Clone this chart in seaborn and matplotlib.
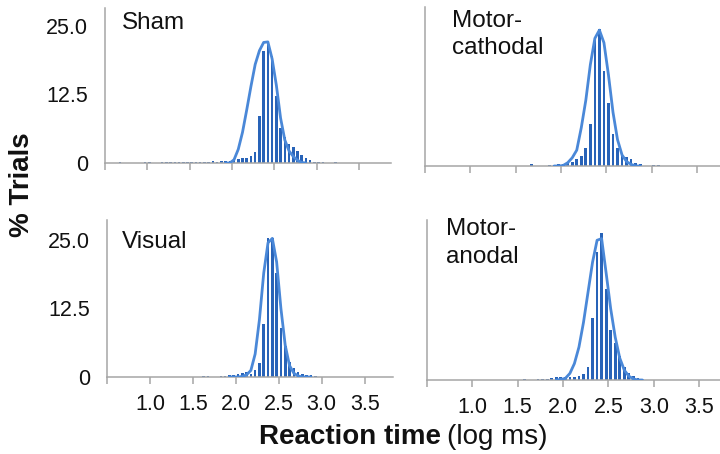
import matplotlib
matplotlib.use('Agg')
import matplotlib.pyplot as plt
import seaborn as sns
import numpy as np
import pandas as pd

sns.set_theme(style='white')
plt.rcParams['font.family'] = ['Liberation Sans', 'DejaVu Sans']
plt.rcParams['text.color'] = '#111111'

# histogram bins (log ms), width 0.05
bin_centers = np.round(np.arange(0.675, 3.25, 0.05), 3)
bin_edges = [float(v) for v in np.round(np.arange(0.65, 3.27, 0.05), 3)]

# % trials per bin
sham_pct = [0.2, 0, 0, 0, 0, 0, 0.2, 0.2, 0, 0,
            0.2, 0.2, 0.2, 0.2, 0.2, 0.2, 0.2, 0.2, 0.2, 0.2,
            0.2, 0.2, 0.4, 0.2, 0.3, 0.3, 0.4, 0.5, 0.8, 1.0,
            1.0, 1.2, 2.0, 8.6, 20.5, 22.0, 19.5, 12.3, 6.4, 4.8,
            3.4, 3.0, 2.1, 1.5, 0.9, 0.5, 0.2, 0.2, 0.2, 0,
            0, 0.2]
cathodal_pct = [0, 0, 0, 0, 0, 0, 0, 0, 0, 0,
                0, 0, 0, 0, 0, 0, 0, 0, 0, 0,
                0.3, 0, 0, 0, 0.2, 0.2, 0.3, 0.3, 0.5, 0.8,
                1.2, 1.8, 3.2, 7.6, 23.6, 25.0, 17.4, 11.5, 5.8, 3.2,
                2.2, 1.6, 1.2, 0.6, 0.3, 0, 0, 0.2, 0.2, 0,
                0, 0]
visual_pct = [0, 0, 0, 0, 0, 0, 0, 0, 0, 0,
              0, 0, 0, 0, 0, 0, 0, 0, 0, 0.2,
              0.2, 0, 0, 0.2, 0.2, 0.3, 0.4, 0.5, 0.7, 1.0,
              0.6, 1.2, 2.6, 9.7, 25.4, 25.4, 19.0, 9.0, 5.6, 2.7,
              1.6, 1.0, 0.6, 0.4, 0.3, 0.2, 0, 0, 0, 0,
              0, 0]
anodal_pct = [0, 0, 0, 0, 0, 0, 0, 0, 0, 0,
              0, 0, 0, 0, 0, 0, 0, 0, 0.2, 0,
              0, 0.1, 0.2, 0.2, 0.3, 0.5, 0.5, 0.5, 0.5, 0.6,
              0.8, 1.1, 2.3, 11.4, 23.3, 26.8, 16.6, 9.2, 6.8, 4.4,
              2.4, 1.2, 0.7, 0.4, 0, 0, 0, 0, 0, 0,
              0, 0]

# fitted curves
curve_x = np.round(np.arange(1.925, 2.9, 0.05), 3)
sham_fit = [0, 0, 0.6, 2.5, 5.6, 9.7, 14.0, 18.0, 20.5, 22.0,
            22.1, 19.0, 14.2, 8.2, 4.2, 2.2, 1.2, 0.5, 0.1, 0]
cathodal_fit = [0, 0, 0.1, 0.6, 1.5, 2.9, 7.0, 12.0, 18.5, 23.3,
                24.8, 22.5, 16.6, 9.8, 4.8, 2.0, 0.8, 0.3, 0, 0]
visual_fit = [0, 0, 0, 0.1, 0.4, 1.2, 4.2, 10.5, 19.0, 24.5,
              25.3, 21.0, 12.5, 5.8, 2.1, 0.7, 0.2, 0, 0, 0]
anodal_fit = [0, 0.1, 0.3, 1.2, 3.0, 6.0, 10.5, 16.0, 21.5, 25.5,
              25.8, 19.5, 13.0, 7.8, 4.0, 1.8, 0.7, 0.2, 0, 0]

x_ticks = [0.5, 1.0, 1.5, 2.0, 2.5, 3.0, 3.5]
x_ticklabels = ['', '1.0', '1.5', '2.0', '2.5', '3.0', '3.5']
y_ticks = [0, 12.5, 25]
y_ticklabels = ['0', '12.5', '25.0']

bar_col = '#2863b8'
line_col = '#4a88d8'
axis_col = '#a6a6a6'

W, H = 720, 454
fig = plt.figure(figsize=(7.2, 4.54), dpi=100)

def px_axes(l, t, r, b):
    return fig.add_axes([l / W, 1 - b / H, (r - l) / W, (b - t) / H])

panels = [
    # pct, fit, box(l,t,r,b), xmax, left col, bottom row
    (sham_pct, sham_fit, (105, 8, 391, 163), 3.88, True, False),
    (cathodal_pct, cathodal_fit, (425, 7, 720, 166), 3.756, False, False),
    (visual_pct, visual_fit, (107, 220, 393, 377), 3.83, True, True),
    (anodal_pct, anodal_fit, (427, 220, 720, 380), 3.73, False, True),
]

for pct, fit, box, xmax, left, bottom in panels:
    ax = px_axes(*box)
    hist_df = pd.DataFrame({'rt': bin_centers, 'pct': pct})
    sns.histplot(data=hist_df, x='rt', weights='pct', bins=bin_edges, shrink=0.6,
                 color=bar_col, alpha=1, edgecolor='none', linewidth=0, ax=ax)
    sns.lineplot(x=curve_x, y=fit, color=line_col, lw=2, ax=ax, zorder=3)
    ax.set_xlim(0.5, xmax)
    ax.set_ylim(0, (box[3] - box[1]) / 5.48)
    ax.set_xlabel('')
    ax.set_ylabel('')
    sns.despine(ax=ax)
    for s in ['left', 'bottom']:
        ax.spines[s].set_color(axis_col)
        ax.spines[s].set_linewidth(1.1)
    ax.set_xticks(x_ticks)
    ax.set_xticklabels(x_ticklabels if bottom else [''] * len(x_ticks))
    if left:
        ax.set_yticks(y_ticks)
        ax.set_yticklabels(y_ticklabels)
    else:
        ax.set_yticks([])
    ax.tick_params(axis='x', direction='out', length=5, width=1.1, color=axis_col,
                   labelsize=15.5, pad=7, labelcolor='#111111', bottom=True)
    ax.tick_params(axis='y', length=0, labelsize=15.5, pad=12, labelcolor='#111111')
    ax.patch.set_alpha(0)

# panel titles
fig.text(122 / W, 1 - 23 / H, 'Sham', fontsize=17.5, va='center', ha='left')
fig.text(452 / W, 1 - 21 / H, 'Motor-', fontsize=17.5, va='center', ha='left')
fig.text(452 / W, 1 - 48 / H, 'cathodal', fontsize=17.5, va='center', ha='left')
fig.text(122 / W, 1 - 242 / H, 'Visual', fontsize=17.5, va='center', ha='left')
fig.text(446 / W, 1 - 229 / H, 'Motor-', fontsize=17.5, va='center', ha='left')
fig.text(446 / W, 1 - 257 / H, 'anodal', fontsize=17.5, va='center', ha='left')

# axis titles
fig.text(22 / W, 1 - 185 / H, '% Trials', fontsize=20, fontweight='bold',
         rotation=90, va='center', ha='center')
fig.text(441 / W, 1 - 437 / H, 'Reaction time', fontsize=20, fontweight='bold',
         va='center', ha='right')
fig.text(447 / W, 1 - 437 / H, '(log ms)', fontsize=20, va='center', ha='left')

fig.savefig('out.png', dpi=100)
